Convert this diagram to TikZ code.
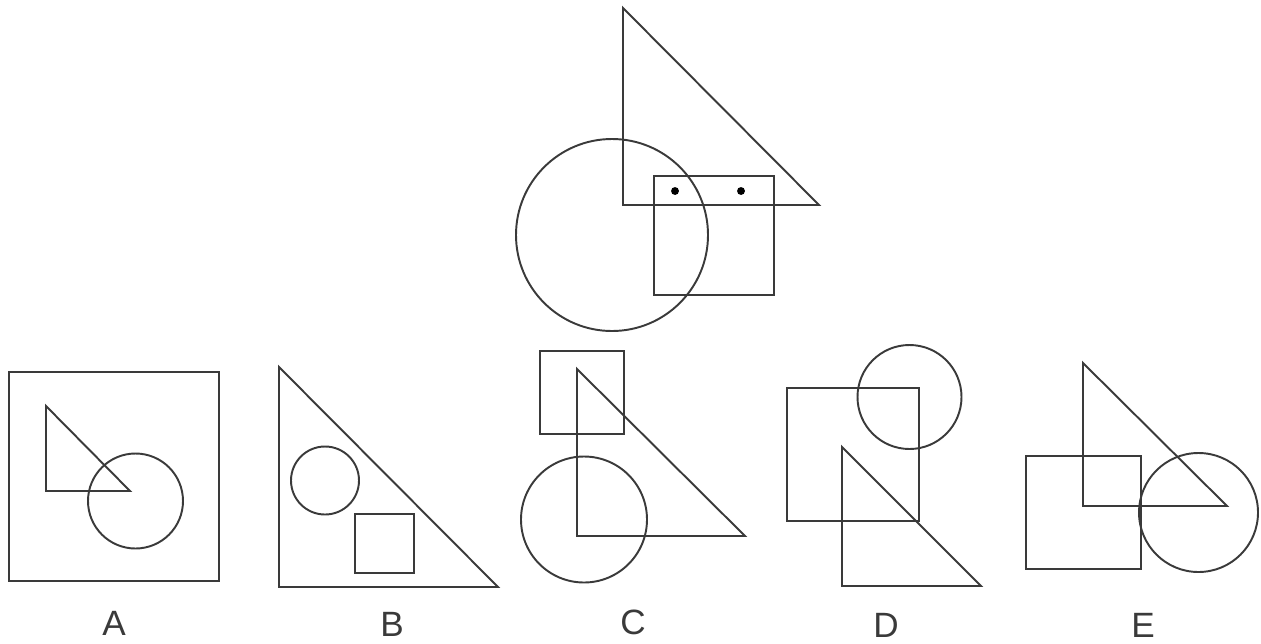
\documentclass[tikz,border=0pt]{standalone}
\usepackage{fontspec}
\setmainfont{Liberation Sans}
\usetikzlibrary{positioning}
\definecolor{inkLine}{HTML}{3A3A3A}
\tikzset{
  outline/.style={draw=inkLine, line width=1.1pt, line join=miter},
  dot/.style={fill=black, circle, inner sep=0pt, minimum size=4.5pt},
  choice/.style={font=\fontsize{20}{22}\selectfont, text=inkLine, inner sep=0pt},
}
\begin{document}
\begin{tikzpicture}[x=0.02cm, y=-0.02cm]
\useasboundingbox (0,0) rectangle (1261,643);
% question figure
\draw[outline] (623,8) -- (623,205) -- (819,205) -- cycle;
\draw[outline] (612,235) circle (96);
\draw[outline] (654,176) rectangle (774,295);
\node[dot] (eyeL) at (675,191) {};
\node[dot] (eyeR) at (741,191) {};
% A
\draw[outline] (9,372) rectangle (219,581);
\draw[outline] (46,406) -- (46,491) -- (130,491) -- cycle;
\draw[outline] (135.5,501) circle (47.5);
\node[choice] (labA) at (114,623) {A};
% B
\draw[outline] (279,367) -- (279,587) -- (498,587) -- cycle;
\draw[outline] (325,480.5) circle (34);
\draw[outline] (355,514) rectangle (414,573);
\node[choice] (labB) at (392,624) {B};
% C
\draw[outline] (540,351) rectangle (624,434);
\draw[outline] (577,369) -- (577,536) -- (745,536) -- cycle;
\draw[outline] (584,519.5) circle (63);
\node[choice] (labC) at (633,622) {C};
% D
\draw[outline] (787,388) rectangle (919,521);
\draw[outline] (909.5,397) circle (52);
\draw[outline] (842,447) -- (842,586) -- (981,586) -- cycle;
\node[choice] (labD) at (886,625) {D};
% E
\draw[outline] (1083,363) -- (1083,506) -- (1227,506) -- cycle;
\draw[outline] (1026,456) rectangle (1141,569);
\draw[outline] (1198.5,512.5) circle (59.5);
\node[choice] (labE) at (1143,625) {E};
\end{tikzpicture}
\end{document}
